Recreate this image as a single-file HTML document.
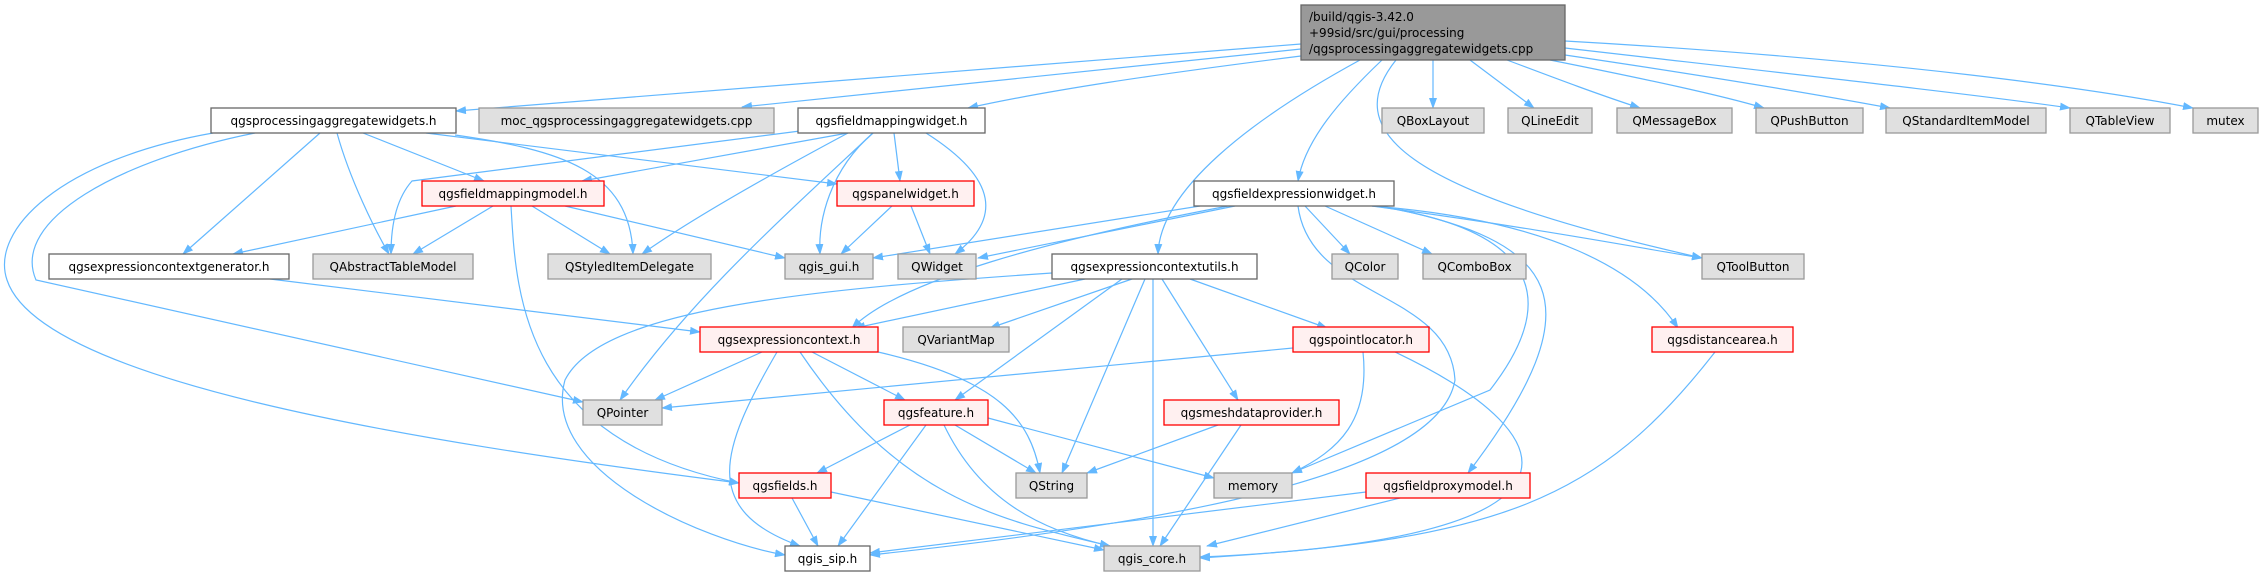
<!DOCTYPE html>
<html><head><meta charset="utf-8"><style>
html,body{margin:0;padding:0;background:#fff;width:2263px;height:579px;overflow:hidden}
svg{display:block}
text{font-family:"DejaVu Sans","Liberation Sans",sans-serif;font-size:12px;fill:#000}
.e{fill:none;stroke:#63b8ff;stroke-width:1.2;marker-end:url(#a)}
.w{fill:#fff;stroke:#666;stroke-width:1.3}
.g{fill:#e0e0e0;stroke:#999;stroke-width:1.3}
.r{fill:#fff0f0;stroke:#f00;stroke-width:1.3}
</style></head><body>
<svg width="2263" height="579" viewBox="0 0 2263 579" xmlns="http://www.w3.org/2000/svg">
<defs><marker id="a" markerWidth="11" markerHeight="8" refX="10" refY="4" orient="auto" markerUnits="userSpaceOnUse"><path d="M0,0 L11,4 L0,8 z" fill="#63b8ff"/></marker></defs>
<g>
<path class="e" d="M1301,44 C1000,70 700,90 456,111"/>
<path class="e" d="M1301,49 C1100,70 900,90 742,107"/>
<path class="e" d="M1301,56 C1150,75 1050,90 968,108"/>
<path class="e" d="M1433,60 L1433,108"/>
<path class="e" d="M1470,60 L1534,108"/>
<path class="e" d="M1507,60 C1560,80 1600,95 1640,108"/>
<path class="e" d="M1550,60 C1650,80 1720,95 1764,108"/>
<path class="e" d="M1565,55 C1700,75 1820,95 1890,108"/>
<path class="e" d="M1565,48 C1800,75 1980,95 2070,108"/>
<path class="e" d="M1565,41 C1900,60 2100,90 2193,108"/>
<path class="e" d="M1360,60 C1250,120 1160,190 1158,254"/>
<path class="e" d="M1382,60 C1340,100 1305,140 1298,181"/>
<path class="e" d="M1396,60 C1340,130 1400,190 1702,258"/>
<path class="e" d="M320,133 L183,254"/>
<path class="e" d="M337,133 C350,180 375,230 389,254"/>
<path class="e" d="M363,133 L484,181"/>
<path class="e" d="M455,135 C560,150 630,170 633,254"/>
<path class="e" d="M426,133 L837,184"/>
<path class="e" d="M255,133 C120,160 10,220 36,280 L583,402"/>
<path class="e" d="M213,133 C60,160 -10,230 7,280 C40,380 400,440 739,483"/>
<path class="e" d="M456,206 L233,254"/>
<path class="e" d="M493,206 L413,254"/>
<path class="e" d="M532,206 L610,254"/>
<path class="e" d="M511,206 C516,290 520,440 739,483"/>
<path class="e" d="M565,206 L785,258"/>
<path class="e" d="M848,133 L582,181"/>
<path class="e" d="M800,131 L412,181 C395,200 391,230 391,254"/>
<path class="e" d="M848,133 C760,180 690,220 642,254"/>
<path class="e" d="M894,133 L900,181"/>
<path class="e" d="M873,133 C830,170 818,220 820,254"/>
<path class="e" d="M926,133 C1000,180 1000,220 955,254"/>
<path class="e" d="M873,133 C780,220 690,300 620,400"/>
<path class="e" d="M892,206 L841,254"/>
<path class="e" d="M911,206 L930,254"/>
<path class="e" d="M1200,206 L873,258"/>
<path class="e" d="M1235,206 L978,258"/>
<path class="e" d="M1228,206 C1050,240 900,280 852,328"/>
<path class="e" d="M1305,206 L1350,254"/>
<path class="e" d="M1325,206 L1432,254"/>
<path class="e" d="M1372,206 C1550,230 1650,250 1702,258"/>
<path class="e" d="M1372,206 C1550,220 1640,270 1678,328"/>
<path class="e" d="M1375,206 C1540,230 1560,300 1490,390 L1292,473"/>
<path class="e" d="M1380,206 C1560,240 1600,300 1468,473"/>
<path class="e" d="M1298,206 C1310,300 1450,290 1455,380 C1440,470 1200,520 870,555"/>
<path class="e" d="M1085,279 L855,328"/>
<path class="e" d="M1132,279 L990,328"/>
<path class="e" d="M1145,279 L1062,473"/>
<path class="e" d="M1122,279 L955,400"/>
<path class="e" d="M1153,279 L1153,546"/>
<path class="e" d="M1162,279 L1238,400"/>
<path class="e" d="M1190,279 L1327,328"/>
<path class="e" d="M1052,273 C800,290 600,310 565,380 C540,470 700,540 785,555"/>
<path class="e" d="M762,352 L655,400"/>
<path class="e" d="M777,352 C720,450 700,510 800,546"/>
<path class="e" d="M800,352 C900,500 1000,520 1110,546"/>
<path class="e" d="M812,352 L905,400"/>
<path class="e" d="M878,352 C1000,380 1030,420 1040,473"/>
<path class="e" d="M1293,348 L662,408"/>
<path class="e" d="M1363,352 C1370,420 1340,450 1292,473"/>
<path class="e" d="M1395,352 C1580,440 1600,540 1200,557"/>
<path class="e" d="M910,425 L817,473"/>
<path class="e" d="M926,425 L838,546"/>
<path class="e" d="M955,425 L1036,473"/>
<path class="e" d="M944,425 C980,500 1040,530 1110,546"/>
<path class="e" d="M988,418 L1214,478"/>
<path class="e" d="M1218,425 L1087,473"/>
<path class="e" d="M1241,425 L1160,546"/>
<path class="e" d="M792,498 L818,546"/>
<path class="e" d="M831,492 L1104,550"/>
<path class="e" d="M1366,492 L870,553"/>
<path class="e" d="M1400,498 L1207,546"/>
<path class="e" d="M1715,352 C1600,500 1500,540 1200,558"/>
<path class="e" d="M270,279 L700,332"/>
</g>
<g>
<rect x="1301" y="5" width="264" height="55" fill="#999" stroke="#666" stroke-width="1.3"/>
<text x="1309" y="21">/build/qgis-3.42.0</text>
<text x="1309" y="37">+99sid/src/gui/processing</text>
<text x="1309" y="53">/qgsprocessingaggregatewidgets.cpp</text>
</g>
<g text-anchor="middle">
<rect class="w" x="211" y="108" width="245" height="25"/><text x="333.5" y="125">qgsprocessingaggregatewidgets.h</text>
<rect class="g" x="479" y="108" width="295" height="25"/><text x="626.5" y="125">moc_qgsprocessingaggregatewidgets.cpp</text>
<rect class="w" x="798" y="108" width="187" height="25"/><text x="891.5" y="125">qgsfieldmappingwidget.h</text>
<rect class="g" x="1382" y="108" width="102" height="25"/><text x="1433" y="125">QBoxLayout</text>
<rect class="g" x="1508" y="108" width="84" height="25"/><text x="1550" y="125">QLineEdit</text>
<rect class="g" x="1617" y="108" width="115" height="25"/><text x="1674.5" y="125">QMessageBox</text>
<rect class="g" x="1756" y="108" width="107" height="25"/><text x="1809.5" y="125">QPushButton</text>
<rect class="g" x="1886" y="108" width="160" height="25"/><text x="1966" y="125">QStandardItemModel</text>
<rect class="g" x="2070" y="108" width="100" height="25"/><text x="2120" y="125">QTableView</text>
<rect class="g" x="2193" y="108" width="65" height="25"/><text x="2225.5" y="125">mutex</text>

<rect class="r" x="422" y="181" width="182" height="25"/><text x="513" y="198">qgsfieldmappingmodel.h</text>
<rect class="r" x="837" y="181" width="137" height="25"/><text x="905.5" y="198">qgspanelwidget.h</text>
<rect class="w" x="1194" y="181" width="200" height="25"/><text x="1294" y="198">qgsfieldexpressionwidget.h</text>

<rect class="w" x="49" y="254" width="240" height="25"/><text x="169" y="271">qgsexpressioncontextgenerator.h</text>
<rect class="g" x="313" y="254" width="160" height="25"/><text x="393" y="271">QAbstractTableModel</text>
<rect class="g" x="548" y="254" width="163" height="25"/><text x="629.5" y="271">QStyledItemDelegate</text>
<rect class="g" x="785" y="254" width="88" height="25"/><text x="829" y="271">qgis_gui.h</text>
<rect class="g" x="898" y="254" width="78" height="25"/><text x="937" y="271">QWidget</text>
<rect class="w" x="1052" y="254" width="205" height="25"/><text x="1154.5" y="271">qgsexpressioncontextutils.h</text>
<rect class="g" x="1332" y="254" width="66" height="25"/><text x="1365" y="271">QColor</text>
<rect class="g" x="1423" y="254" width="103" height="25"/><text x="1474.5" y="271">QComboBox</text>
<rect class="g" x="1702" y="254" width="102" height="25"/><text x="1753" y="271">QToolButton</text>

<rect class="r" x="700" y="327" width="178" height="25"/><text x="789" y="344">qgsexpressioncontext.h</text>
<rect class="g" x="903" y="327" width="106" height="25"/><text x="956" y="344">QVariantMap</text>
<rect class="r" x="1293" y="327" width="136" height="25"/><text x="1361" y="344">qgspointlocator.h</text>
<rect class="r" x="1652" y="327" width="141" height="25"/><text x="1722.5" y="344">qgsdistancearea.h</text>

<rect class="g" x="583" y="400" width="79" height="25"/><text x="622.5" y="417">QPointer</text>
<rect class="r" x="884" y="400" width="104" height="25"/><text x="936" y="417">qgsfeature.h</text>
<rect class="r" x="1164" y="400" width="175" height="25"/><text x="1251.5" y="417">qgsmeshdataprovider.h</text>

<rect class="r" x="739" y="473" width="92" height="25"/><text x="785" y="490">qgsfields.h</text>
<rect class="g" x="1016" y="473" width="71" height="25"/><text x="1051.5" y="490">QString</text>
<rect class="g" x="1214" y="473" width="78" height="25"/><text x="1253" y="490">memory</text>
<rect class="r" x="1366" y="473" width="164" height="25"/><text x="1448" y="490">qgsfieldproxymodel.h</text>

<rect class="w" x="785" y="546" width="85" height="25"/><text x="827.5" y="563">qgis_sip.h</text>
<rect class="g" x="1104" y="546" width="96" height="25"/><text x="1152" y="563">qgis_core.h</text>
</g>
</svg>
</body></html>
